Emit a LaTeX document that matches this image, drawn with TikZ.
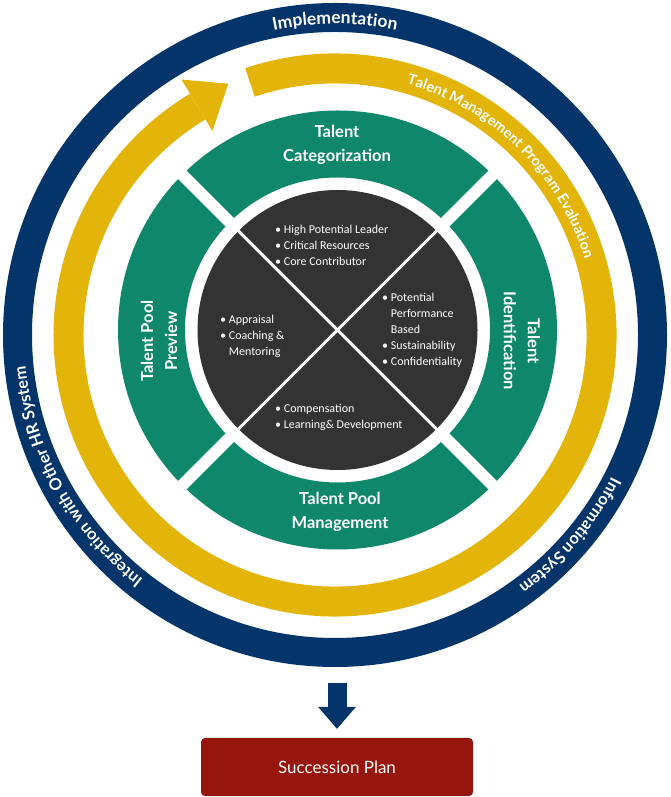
\documentclass[tikz,border=0pt]{standalone}
\usepackage{fontspec}
\setmainfont{Lato}
\newfontfamily\bulletfont{Carlito}
\usetikzlibrary{arrows.meta,decorations.text}
\definecolor{ringnavy}{RGB}{3,52,106}
\definecolor{ringgold}{RGB}{227,180,10}
\definecolor{seggreen}{RGB}{15,135,106}
\definecolor{hubgrey}{RGB}{51,51,51}
\definecolor{planred}{RGB}{150,22,14}
\newcommand{\ringfont}{\bfseries\fontsize{16.5}{20}\selectfont}
\newcommand{\itm}{\textbullet\ }

\begin{document}
\begin{tikzpicture}[
  x=1pt, y=1pt,
  seglabel/.style={text=white, font=\bfseries\fontsize{16.5}{24}\selectfont, align=center},
  bullets/.style={text=white, font=\bulletfont\fontsize{12}{16}\selectfont, align=left, inner sep=0pt, anchor=west},
  planbox/.style={fill=planred, rounded corners=4pt, text=white, font=\fontsize{17}{20}\selectfont, minimum width=272pt, minimum height=58pt},
  downarrow/.style={ringnavy, line width=19pt, -{Triangle[width=38pt, length=22pt, line width=0pt]}, shorten >=9pt},
  ringtext/.style={decorate, decoration={text along path, text align=center, text color=white, text={#1}}}
]
\useasboundingbox (0,0) rectangle (670,797);

% outer rings
\begin{scope}[shift={(335,462)}]
  \draw[ringnavy, line width=29pt] (0,0) circle[radius=317.5pt];
  \draw[ringgold, line width=30pt] (108.6:266.5pt) arc[start angle=108.6, end angle=-239, radius=266.5pt];
  \fill[ringgold] (121:238pt) -- (121:298pt) -- (113:273pt) -- cycle;
  \path[ringtext={|\bfseries\fontsize{17.5}{20}\selectfont|Implementation}] (150:311pt) arc[start angle=150, end angle=30, radius=311pt];
  \path[ringtext={|\ringfont|Integration with Other HR System}] (265:311pt) arc[start angle=265, end angle=152.6, radius=311pt];
  \path[ringtext={|\ringfont|Information System}] (15:311pt) arc[start angle=15, end angle=-96, radius=311pt];
  \path[ringtext={|\bfseries\fontsize{14.5}{18}\selectfont|Talent Management Program Evaluation}] (100:261pt) arc[start angle=100, end angle=-9, radius=261pt];
\end{scope}

% green segments and hub
\begin{scope}[shift={(337.5,467)}]
  \draw[seggreen, line width=67pt] (0,0) circle[radius=186pt];
  \draw[white, line width=12pt] (45:228pt) -- (225:228pt);
  \draw[white, line width=12pt] (135:228pt) -- (315:228pt);
  \fill[hubgrey] (0,0) circle[radius=140pt];
  \draw[white, line width=3pt] (45:140pt) -- (225:140pt);
  \draw[white, line width=3pt] (135:140pt) -- (315:140pt);
\end{scope}

\node[seglabel] (categ) at (337,652) {Talent\\Categorization};
\node[seglabel, rotate=-90] (ident) at (522,456) {Talent\\Identification};
\node[seglabel] (mgmt) at (340,285) {Talent Pool\\Management};
\node[seglabel, rotate=90] (preview) at (159,456) {Talent Pool\\Preview};

\node[bullets] (topitems) at (275,552) {\itm High Potential Leader\\\itm Critical Resources\\\itm Core Contributor};
\node[bullets] (rightitems) at (382,467) {\itm Potential\\\phantom{\itm}Performance\\\phantom{\itm}Based\\\itm Sustainability\\\itm Confidentiality};
\node[bullets] (leftitems) at (220,461) {\itm Appraisal\\\itm Coaching \&\\\phantom{\itm}Mentoring};
\node[bullets] (bottomitems) at (275,380) {\itm Compensation\\\itm Learning\& Development};

\node[planbox] (plan) at (337,30) {Succession Plan};
\coordinate (ringfoot) at (337,114);
\draw[downarrow] (ringfoot) -- (plan);
\end{tikzpicture}
\end{document}
